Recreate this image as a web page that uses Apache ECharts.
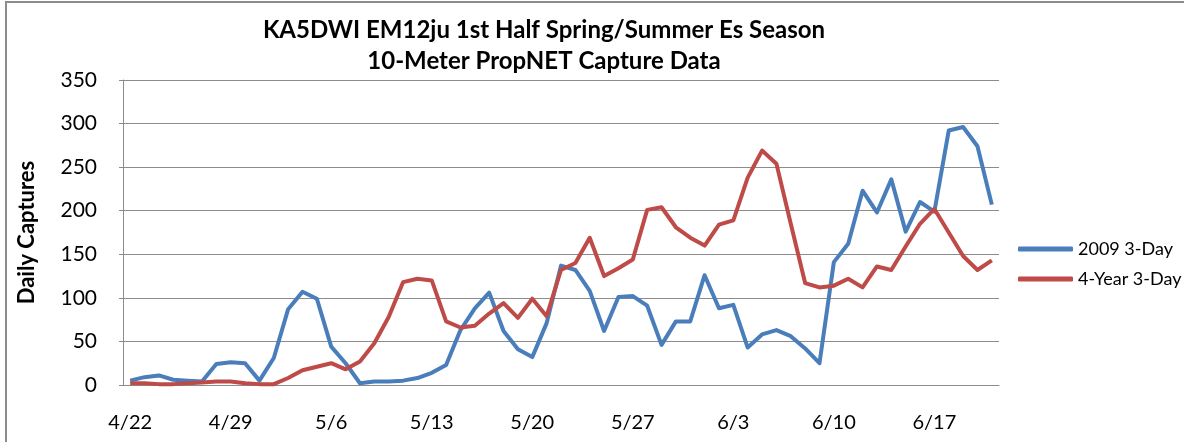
<!DOCTYPE html>
<html>
<head>
<meta charset="utf-8">
<script src="https://cdn.jsdelivr.net/npm/echarts@6/dist/echarts.min.js"></script>
<style>
  html, body { margin: 0; padding: 0; background: #fff; }
  #chart { width: 1184px; height: 442px; }
</style>
</head>
<body>
<div id="chart"></div>
<script>
// daily dates, 4/22 .. 6/21
const days = [
  '4/22', '4/23', '4/24', '4/25', '4/26', '4/27', '4/28', '4/29', '4/30',
  '5/1', '5/2', '5/3', '5/4', '5/5', '5/6', '5/7', '5/8', '5/9', '5/10',
  '5/11', '5/12', '5/13', '5/14', '5/15', '5/16', '5/17', '5/18', '5/19',
  '5/20', '5/21', '5/22', '5/23', '5/24', '5/25', '5/26', '5/27', '5/28',
  '5/29', '5/30', '5/31', '6/1', '6/2', '6/3', '6/4', '6/5', '6/6', '6/7',
  '6/8', '6/9', '6/10', '6/11', '6/12', '6/13', '6/14', '6/15', '6/16',
  '6/17', '6/18', '6/19', '6/20', '6/21'
]

const year2009 = [
  5, 9, 11, 6, 5, 4, 24, 26, 25, 5, 31, 87, 107, 99, 44, 25, 2, 4, 4, 5,
  8, 14, 23, 63, 88, 106, 62, 41, 32, 71, 137, 132, 108, 62, 101, 102, 91,
  46, 73, 73, 126, 88, 92, 43, 58, 63, 56, 42, 25, 141, 162, 223, 198, 236,
  176, 210, 199, 292, 296, 274, 207
]

const fourYear = [
  2, 2, 1, 1, 2, 3, 4, 4, 2, 1, 1, 8, 17, 21, 25, 18, 27, 48, 78, 118,
  122, 120, 73, 66, 68, 82, 94, 77, 99, 79, 132, 140, 169, 125, 134, 144,
  201, 204, 181, 169, 160, 184, 189, 238, 269, 254, 185, 117, 112, 114, 122,
  112, 136, 132, 159, 185, 202, 175, 148, 132, 143
]

const seriesNames = ['2009 3-Day', '4-Year 3-Day']
const titleLines = ['KA5DWI EM12ju 1st Half Spring/Summer Es Season', '10-Meter PropNET Capture Data']

const FONT = 'Lato, "Open Sans", sans-serif'
const GRID_GRAY = '#8c8c8c'

const chart = echarts.init(document.getElementById('chart'))

chart.setOption({
  backgroundColor: '#fff',
  animation: false,
  textStyle: { fontFamily: FONT, color: '#000' },
  graphic: [
    {
      type: 'rect',
      shape: { x: 6, y: 2, width: 1300, height: 600 },
      style: { fill: 'none', stroke: GRID_GRAY, lineWidth: 2 },
      silent: true
    },
    {
      type: 'text',
      x: 544,
      y: 30,
      style: {
        text: titleLines[0],
        font: 'bold 24px ' + FONT,
        fill: '#000',
        textAlign: 'center',
        textVerticalAlign: 'middle'
      }
    },
    {
      type: 'text',
      x: 544,
      y: 61,
      style: {
        text: titleLines[1],
        font: 'bold 24px ' + FONT,
        fill: '#000',
        textAlign: 'center',
        textVerticalAlign: 'middle'
      }
    }
  ],
  legend: {
    orient: 'vertical',
    left: 1013,
    top: 235,
    itemWidth: 55,
    itemHeight: 5,
    itemGap: 12,
    icon: 'roundRect',
    textStyle: { fontFamily: FONT, fontSize: 18, color: '#000', padding: [0, 0, 0, 0] },
    data: seriesNames
  },
  grid: { left: 123, top: 80, width: 876, height: 305 },
  xAxis: {
    type: 'category',
    data: days,
    boundaryGap: true,
    axisLine: { lineStyle: { color: GRID_GRAY, width: 1 } },
    axisTick: { show: false },
    axisLabel: { interval: 6, margin: 28, fontSize: 20, color: '#000', fontFamily: FONT }
  },
  yAxis: {
    type: 'value',
    min: 0,
    max: 350,
    interval: 50,
    name: 'Daily Captures',
    nameLocation: 'middle',
    nameGap: 85,
    nameTextStyle: { fontSize: 22, fontWeight: 'bold', color: '#000', fontFamily: FONT },
    axisLine: { show: true, lineStyle: { color: GRID_GRAY, width: 1 } },
    axisTick: { show: true, length: 4, lineStyle: { color: GRID_GRAY } },
    axisLabel: { margin: 26, fontSize: 21, color: '#000', fontFamily: FONT },
    splitLine: { lineStyle: { color: GRID_GRAY, width: 1 } }
  },
  series: [
    {
      name: seriesNames[0],
      type: 'line',
      data: year2009,
      showSymbol: false,
      symbol: 'none',
      lineStyle: { color: '#4a7ebb', width: 4, join: 'round' },
      itemStyle: { color: '#4a7ebb' }
    },
    {
      name: seriesNames[1],
      type: 'line',
      data: fourYear,
      showSymbol: false,
      symbol: 'none',
      lineStyle: { color: '#be4b48', width: 4, join: 'round' },
      itemStyle: { color: '#be4b48' }
    }
  ]
})
</script>
</body>
</html>
